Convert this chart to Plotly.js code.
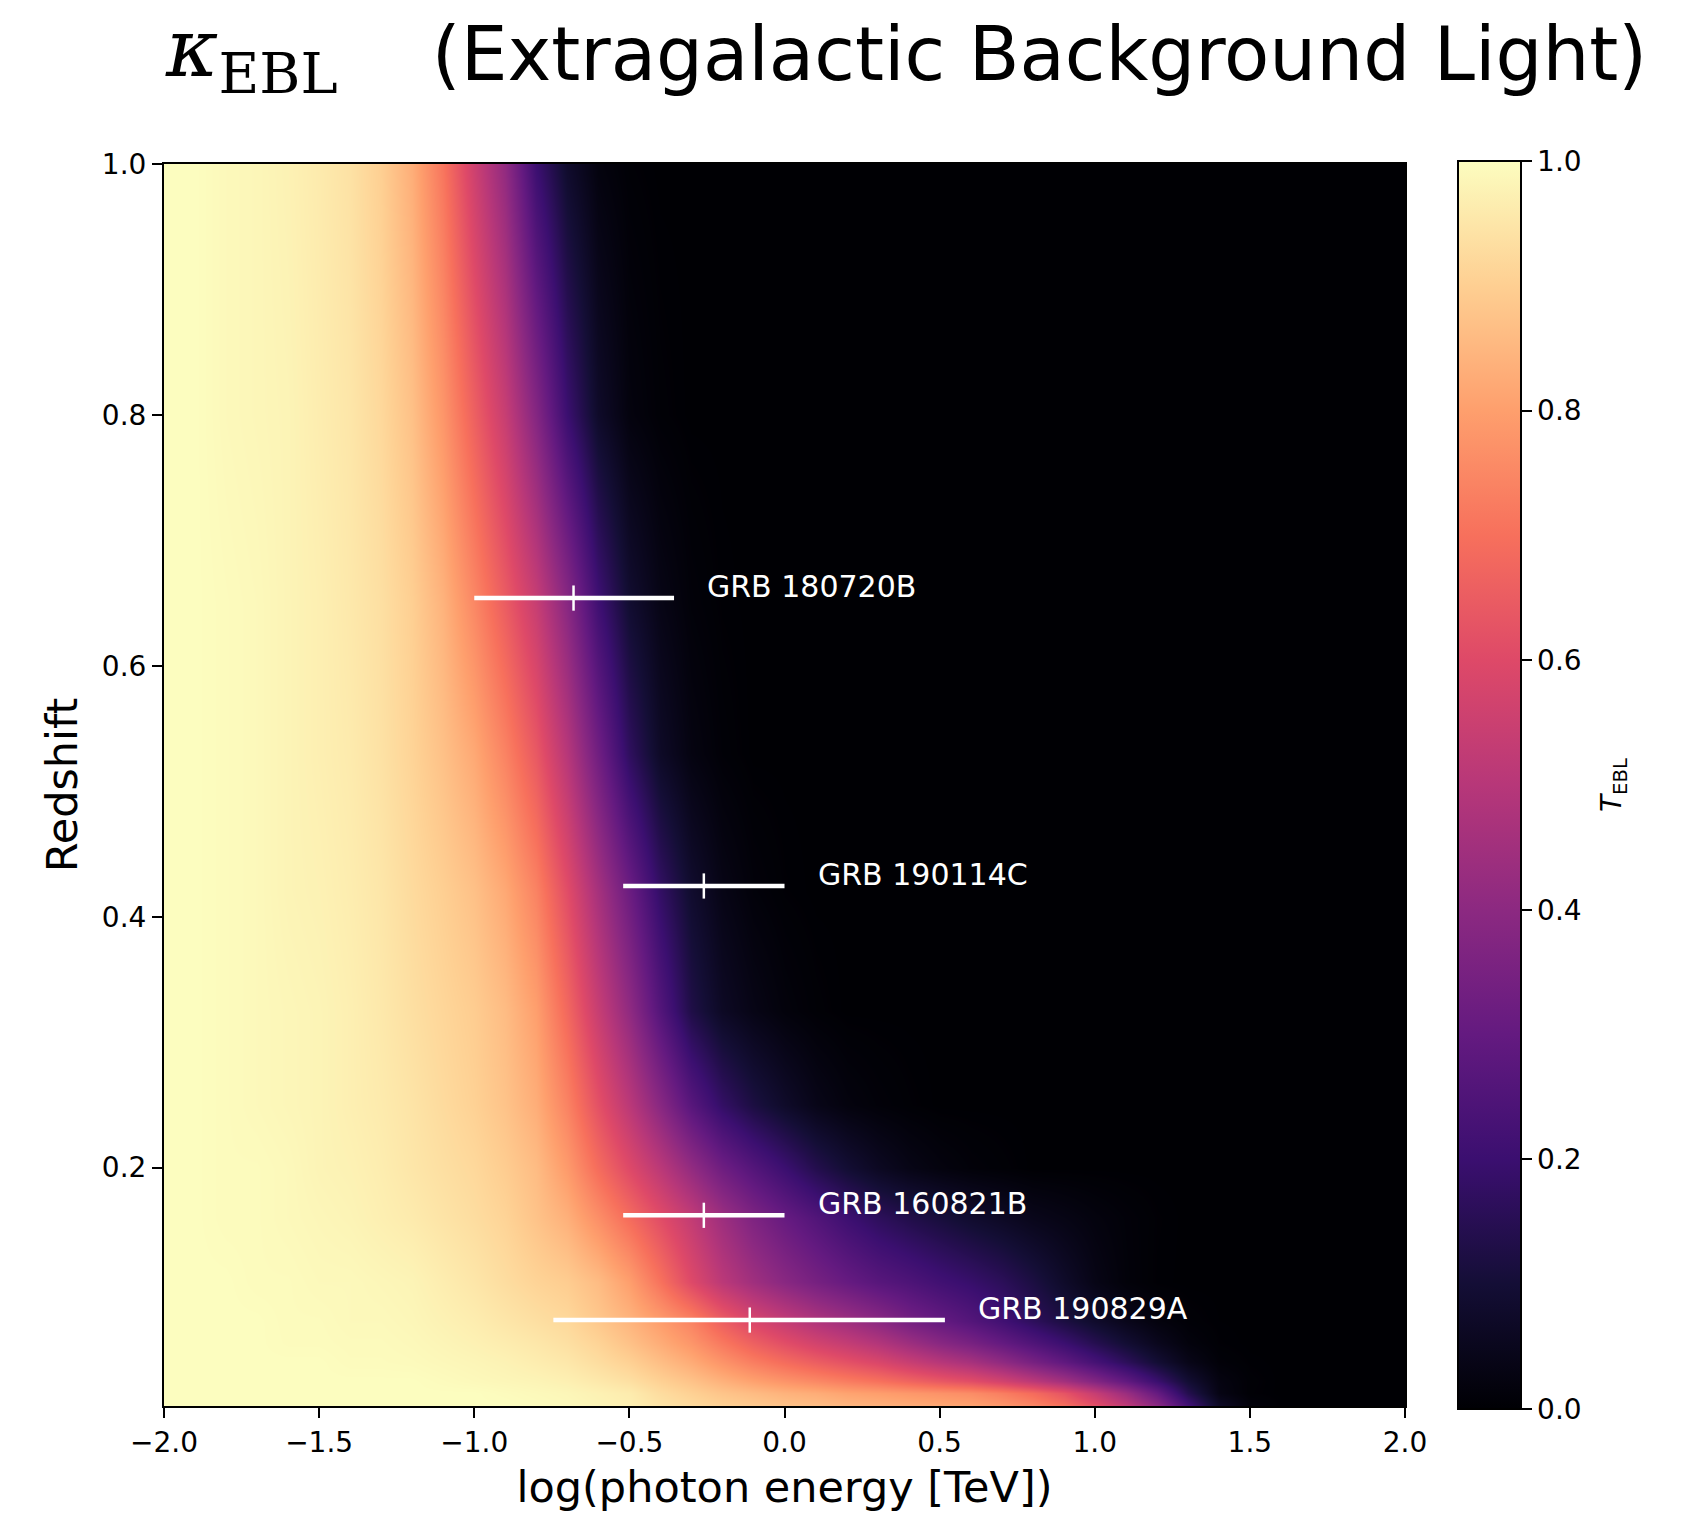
<!DOCTYPE html>
<html>
<head>
<meta charset="utf-8">
<script src="https://cdn.plot.ly/plotly-3.0.1.min.js"></script>
<style>html,body{margin:0;padding:0;background:#fff}</style>
</head>
<body>
<div id="chart" style="width:1685px;height:1513px"></div>
<script>
// Grid of log10(photon energy / TeV) values (columns of the transmission map)
const logEnergy = [-2.0,-1.9,-1.8,-1.7,-1.6,-1.5,-1.4,-1.3,-1.2,-1.1,-1.0,-0.9,-0.8,-0.7,-0.6,-0.5,-0.4,-0.3,-0.2,-0.1,
                   0.0,0.1,0.2,0.3,0.4,0.5,0.6,0.7,0.8,0.9,1.0,1.1,1.2,1.3,1.4,1.5,1.6,1.7,1.8,1.9,2.0];

// Redshift of each transmission row
const redshiftRows = [0.01,0.02,0.03,0.045,0.06,0.078,0.109,0.16,0.2,0.25,0.325,0.42,0.53,0.65,0.8,1.0];

// EBL transmission T_EBL along log-energy, one array per redshift
const T_z010 = [1,1,1,1,1,1,1,1,1,1,1,1,.995,.99,.98,.97,.945,.925,.905,.89,.875,.865,.85,.84,.83,.82,.81,.785,.75,.7,.62,.525,.4,.22,.07,.015,.002,0,0,0,0];
const T_z020 = [1,1,1,1,1,1,1,1,1,1,1,.995,.99,.985,.974,.962,.929,.904,.878,.859,.84,.828,.809,.798,.785,.773,.76,.73,.688,.629,.537,.433,.304,.141,.031,.004,0,0,0,0,0];
const T_z030 = [1,1,1,1,1,1,1,1,1,.995,.99,.985,.98,.971,.955,.936,.904,.874,.838,.805,.776,.752,.726,.702,.671,.64,.611,.567,.511,.451,.375,.293,.197,.094,.025,.005,0,0,0,0,0];
const T_z045 = [1,1,1,1,1,1,.995,.995,.993,.988,.983,.976,.965,.953,.93,.904,.865,.826,.776,.729,.689,.654,.621,.587,.542,.5,.462,.409,.348,.291,.227,.163,.097,.04,.009,.002,0,0,0,0,0];
const T_z060 = [1,1,1,1,.996,.996,.993,.993,.989,.982,.974,.964,.952,.936,.91,.872,.828,.781,.718,.66,.611,.568,.531,.49,.439,.39,.349,.3,.25,.2,.145,.095,.05,.017,.003,0,0,0,0,0,0];
const T_z078 = [1,1,1,1,.995,.995,.99,.99,.985,.975,.965,.95,.935,.92,.885,.845,.795,.74,.655,.585,.53,.48,.44,.395,.34,.3,.26,.215,.165,.12,.08,.045,.02,.006,.001,0,0,0,0,0,0];
const T_z109 = [1,1,1,.995,.995,.99,.99,.985,.98,.965,.95,.93,.91,.895,.86,.8,.705,.6,.51,.445,.39,.345,.305,.27,.245,.215,.19,.16,.12,.075,.035,.012,.002,0,0,0,0,0,0,0,0];
const T_z160 = [1,1,.995,.995,.99,.985,.98,.97,.96,.945,.93,.91,.875,.835,.765,.69,.61,.53,.44,.365,.305,.255,.205,.165,.135,.11,.085,.065,.045,.033,.02,.01,.003,0,0,0,0,0,0,0,0];
const T_z200 = [1,1,.995,.995,.99,.98,.975,.965,.95,.935,.92,.895,.86,.79,.69,.6,.51,.415,.325,.26,.2,.14,.095,.06,.035,.02,.01,.005,0,0,0,0,0,0,0,0,0,0,0,0,0];
const T_z250 = [1,1,.995,.99,.985,.98,.97,.96,.945,.925,.905,.875,.83,.74,.62,.51,.39,.27,.18,.12,.075,.04,.02,.01,.004,0,0,0,0,0,0,0,0,0,0,0,0,0,0,0,0];
const T_z325 = [1,1,.995,.99,.985,.98,.97,.955,.935,.915,.895,.86,.8,.68,.54,.41,.26,.13,.065,.035,.015,.005,0,0,0,0,0,0,0,0,0,0,0,0,0,0,0,0,0,0,0];
const T_z420 = [1,1,.995,.99,.98,.975,.965,.95,.925,.9,.87,.82,.74,.61,.46,.32,.18,.085,.035,.012,.003,0,0,0,0,0,0,0,0,0,0,0,0,0,0,0,0,0,0,0,0];
const T_z530 = [1,1,.995,.99,.98,.97,.96,.94,.91,.87,.82,.74,.64,.5,.33,.17,.07,.025,.007,0,0,0,0,0,0,0,0,0,0,0,0,0,0,0,0,0,0,0,0,0,0];
const T_z650 = [1,1,.995,.99,.98,.97,.955,.935,.9,.84,.75,.65,.54,.39,.21,.09,.035,.01,.002,0,0,0,0,0,0,0,0,0,0,0,0,0,0,0,0,0,0,0,0,0,0];
const T_z800 = [1,1,.99,.985,.98,.965,.95,.92,.87,.78,.66,.54,.38,.2,.075,.02,.005,0,0,0,0,0,0,0,0,0,0,0,0,0,0,0,0,0,0,0,0,0,0,0,0];
const T_z1000 = [1,1,.99,.985,.975,.96,.94,.9,.83,.71,.555,.41,.2,.08,.02,.004,0,0,0,0,0,0,0,0,0,0,0,0,0,0,0,0,0,0,0,0,0,0,0,0,0];

const transmission = [T_z010,T_z020,T_z030,T_z045,T_z060,T_z078,T_z109,T_z160,T_z200,T_z250,T_z325,T_z420,T_z530,T_z650,T_z800,T_z1000];

// Gamma-ray bursts detected at very high energies
const grbNames    = ['GRB 180720B','GRB 190114C','GRB 160821B','GRB 190829A'];
const grbRedshift = [0.654, 0.4245, 0.162, 0.0785];
const grbLogE     = [-0.68, -0.26, -0.26, -0.112];
const grbLogEMin  = [-1.0, -0.52, -0.52, -0.745];
const grbLogEMax  = [-0.356, 0.0, 0.0, 0.517];

// Colorbar ticks
const cbTicks = [0, 0.2, 0.4, 0.6, 0.8, 1.0];
const cbTickText = ['0.0','0.2','0.4','0.6','0.8','1.0'];

// matplotlib "magma" colour map
const magma = [
  [0.0,'#000004'],[0.1,'#140e36'],[0.2,'#3b0f70'],[0.3,'#641a80'],[0.4,'#8c2981'],
  [0.5,'#b73779'],[0.6,'#de4968'],[0.7,'#f7705c'],[0.8,'#fe9f6d'],[0.9,'#fecf92'],[1.0,'#fcfdbf']
];

const FONT = 'DejaVu Sans, Verdana, sans-serif';
const W = 1685, H = 1513;
const L = 164, R = 1405, T = 164, B = 1406;
const pxToPaperX = px => (px - L) / (R - L);

const heat = {
  type: 'heatmap',
  x: logEnergy,
  y: redshiftRows,
  z: transmission,
  zmin: 0, zmax: 1,
  zsmooth: 'best',
  colorscale: magma,
  hoverinfo: 'skip',
  colorbar: {
    x: pxToPaperX(1458), xanchor: 'left', xpad: 0,
    y: 0.5, yanchor: 'middle', ypad: 0,
    thickness: 63, thicknessmode: 'pixels',
    len: 1248, lenmode: 'pixels',
    outlinewidth: 2, outlinecolor: '#000',
    ticks: 'outside', ticklen: 10, tickwidth: 2, tickcolor: '#000',
    tickvals: cbTicks, ticktext: cbTickText,
    tickfont: {family: FONT, size: 28, color: '#000'}
  }
};

const grb = {
  type: 'scatter',
  mode: 'markers',
  x: grbLogE,
  y: grbRedshift,
  showlegend: false,
  hoverinfo: 'skip',
  marker: {symbol: 'line-ns-open', size: 18, color: '#fff', line: {color: '#fff', width: 2.5}},
  error_x: {
    type: 'data', symmetric: false,
    array: grbLogE.map((c, i) => grbLogEMax[i] - c),
    arrayminus: grbLogE.map((c, i) => c - grbLogEMin[i]),
    color: '#fff', thickness: 4.5, width: 0
  }
};

const labels = grbNames.map((name, i) => ({
  x: grbLogEMax[i] + 0.1, y: grbRedshift[i],
  xref: 'x', yref: 'y',
  text: name, showarrow: false,
  xanchor: 'left', yanchor: 'bottom', yshift: -8,
  font: {family: FONT, size: 30, color: '#fff'}
}));

// Colorbar label, drawn vertically to the right of the tick labels
labels.push({
  x: pxToPaperX(1613), y: 0.5, xref: 'paper', yref: 'paper',
  text: '<i>T</i><sub>EBL</sub>', showarrow: false, textangle: -90,
  xanchor: 'center', yanchor: 'middle',
  font: {family: FONT, size: 28, color: '#000'}
});

const axisCommon = {
  showgrid: false, zeroline: false,
  showline: true, linecolor: '#000', linewidth: 2, mirror: true,
  ticks: 'outside', ticklen: 10, tickwidth: 2, tickcolor: '#000',
  tickfont: {family: FONT, size: 28, color: '#000'},
  tickformat: '.1f'
};

const layout = {
  width: W, height: H,
  margin: {l: L, r: W - R, t: T, b: H - B, pad: 0},
  paper_bgcolor: '#fff', plot_bgcolor: '#fff',
  font: {family: FONT, color: '#000'},
  title: {
    text: '<span style="font-family:\'DejaVu Serif\',serif;font-size:80px;baseline-shift:4px"><i>κ</i><sub>EBL</sub></span>\u00a0\u00a0\u00a0\u00a0(Extragalactic Background Light)',
    font: {family: FONT, size: 74, color: '#000'},
    xref: 'container', x: 166 / W, xanchor: 'left',
    yref: 'container', y: 1 - 54 / H, yanchor: 'middle'
  },
  xaxis: Object.assign({}, axisCommon, {
    range: [-2, 2], tick0: -2, dtick: 0.5,
    title: {text: 'log(photon energy [TeV])', font: {family: FONT, size: 43, color: '#000'}, standoff: 14}
  }),
  yaxis: Object.assign({}, axisCommon, {
    range: [0.01, 1.0], tick0: 0, dtick: 0.2,
    title: {text: 'Redshift', font: {family: FONT, size: 43, color: '#000'}, standoff: 11}
  }),
  annotations: labels
};

Plotly.newPlot('chart', [heat, grb], layout, {staticPlot: true, displayModeBar: false});
</script>
</body>
</html>
